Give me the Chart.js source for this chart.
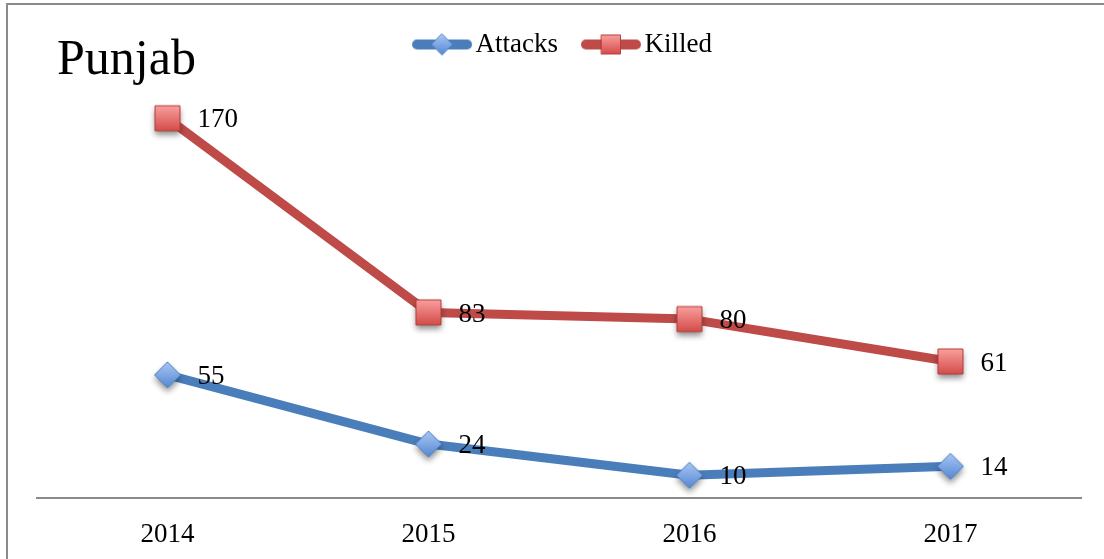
<!DOCTYPE html>
<html>
<head>
<meta charset="utf-8">
<script src="https://cdn.jsdelivr.net/npm/chart.js@4"></script>
<style>
html, body { margin: 0; padding: 0; background: #fff; overflow: hidden; }
#wrap { position: relative; width: 1104px; height: 559px; }
#frame { position: absolute; left: 6px; top: 3px; width: 1200px; height: 700px;
         border-left: 2px solid #8a8a8a; border-top: 2px solid #8a8a8a; pointer-events: none; }
canvas { display: block; }
</style>
</head>
<body>
<div id="wrap">
  <canvas id="chart" width="1104" height="559"></canvas>
  <div id="frame"></div>
</div>
<script>
let years = ['2014', '2015', '2016', '2017'];
let attacks = [55, 24, 10, 14];
let killed = [170, 83, 80, 61];
let chartTitle = 'Punjab';

let serif = '"Liberation Serif", "DejaVu Serif", serif';
let blue = '#4a7ebb';
let red = '#be4b48';

// marker path + gradient fill, optionally with a soft drop shadow
function paintMarker(g, shape, cx, cy, size, top, bottom, edge, shadow) {
    let h = size / 2;
    g.beginPath();
    if (shape == 'diamond') {
        g.moveTo(cx, cy - h);
        g.lineTo(cx + h, cy);
        g.lineTo(cx, cy + h);
        g.lineTo(cx - h, cy);
        g.closePath();
    } else {
        g.rect(cx - h, cy - h, size, size);
    }
    let grad = g.createLinearGradient(0, cy - h, 0, cy + h);
    grad.addColorStop(0, top);
    grad.addColorStop(1, bottom);
    g.save();
    if (shadow) {
        g.shadowColor = 'rgba(0,0,0,0.45)';
        g.shadowBlur = 6;
        g.shadowOffsetY = 4;
    }
    g.fillStyle = grad;
    g.fill();
    g.restore();
    g.strokeStyle = edge;
    g.lineWidth = 1;
    g.stroke();
}

function makeMarker(shape, size, top, bottom, edge) {
    let c = document.createElement('canvas');
    c.width = c.height = size + 24;
    paintMarker(c.getContext('2d'), shape, c.width / 2, c.height / 2, size, top, bottom, edge, true);
    return c;
}

// legend swatch: thick line with the marker in the middle
function makeSwatch(shape, color, size, top, bottom, edge) {
    let c = document.createElement('canvas');
    c.width = 62;
    c.height = 26;
    let g = c.getContext('2d');
    g.strokeStyle = color;
    g.lineWidth = 10;
    g.lineCap = 'round';
    g.beginPath();
    g.moveTo(6, 13);
    g.lineTo(56, 13);
    g.stroke();
    paintMarker(g, shape, 31, 13, size, top, bottom, edge, false);
    return c;
}

let blueMarker = makeMarker('diamond', 26, '#a9c7f2', '#5487d4', '#4f80c6');
let redMarker = makeMarker('square', 25, '#fa9f9d', '#d34c49', '#b33f3c');
let swatches = [
    makeSwatch('diamond', blue, 21, '#a9c7f2', '#5487d4', '#4f80c6'),
    makeSwatch('square', red, 19, '#fa9f9d', '#d34c49', '#b33f3c')
];

// extra room under the legend before the plot starts
const legendGap = {
    id: 'legendGap',
    beforeInit(chart) {
        let fit = chart.legend.fit;
        chart.legend.fit = function () {
            fit.bind(chart.legend)();
            this.height = 98;
        };
    },
    afterLayout(chart) {
        chart.legend.left += 8;
        chart.legend.right += 8;
    }
};

const valueLabels = {
    id: 'valueLabels',
    afterDatasetsDraw(chart) {
        let ctx = chart.ctx;
        ctx.save();
        ctx.font = '27px ' + serif;
        ctx.fillStyle = '#000';
        ctx.textAlign = 'left';
        ctx.textBaseline = 'middle';
        chart.data.datasets.forEach((ds, i) => {
            chart.getDatasetMeta(i).data.forEach((pt, j) => {
                ctx.fillText(String(ds.data[j]), pt.x + 30, pt.y + 2);
            });
        });
        ctx.restore();
    }
};

const titleText = {
    id: 'titleText',
    afterDraw(chart) {
        let ctx = chart.ctx;
        ctx.save();
        ctx.font = '50px ' + serif;
        ctx.fillStyle = '#000';
        ctx.textAlign = 'left';
        ctx.textBaseline = 'alphabetic';
        ctx.fillText(chartTitle, 57, 74);
        ctx.restore();
    }
};

let chart = new Chart(document.getElementById('chart'), {
    type: 'line',
    data: {
        labels: years,
        datasets: [
            {
                label: 'Attacks',
                data: attacks,
                borderColor: blue,
                backgroundColor: blue,
                borderWidth: 9,
                borderJoinStyle: 'round',
                borderCapStyle: 'round',
                tension: 0,
                pointStyle: blueMarker,
                pointRadius: 13
            },
            {
                label: 'Killed',
                data: killed,
                borderColor: red,
                backgroundColor: red,
                borderWidth: 9,
                borderJoinStyle: 'round',
                borderCapStyle: 'round',
                tension: 0,
                pointStyle: redMarker,
                pointRadius: 13
            }
        ]
    },
    options: {
        responsive: false,
        animation: false,
        layout: { padding: { left: 37, right: 23, top: -2, bottom: -13 } },
        scales: {
            x: {
                offset: true,
                grid: { display: false, drawTicks: false },
                border: { display: true, color: '#8a8a8a', width: 2 },
                ticks: { color: '#000', font: { family: serif, size: 27 }, padding: 21 }
            },
            y: { display: false, min: 0, max: 180 }
        },
        plugins: {
            legend: {
                position: 'top',
                labels: {
                    usePointStyle: true,
                    pointStyleWidth: 40,
                    padding: 33,
                    color: '#000',
                    font: { family: serif, size: 27 },
                    generateLabels(chart) {
                        let items = Chart.defaults.plugins.legend.labels.generateLabels(chart);
                        items.forEach((it, i) => { it.pointStyle = swatches[i]; });
                        return items;
                    }
                }
            },
            tooltip: { enabled: false }
        }
    },
    plugins: [legendGap, valueLabels, titleText]
});
</script>
</body>
</html>
